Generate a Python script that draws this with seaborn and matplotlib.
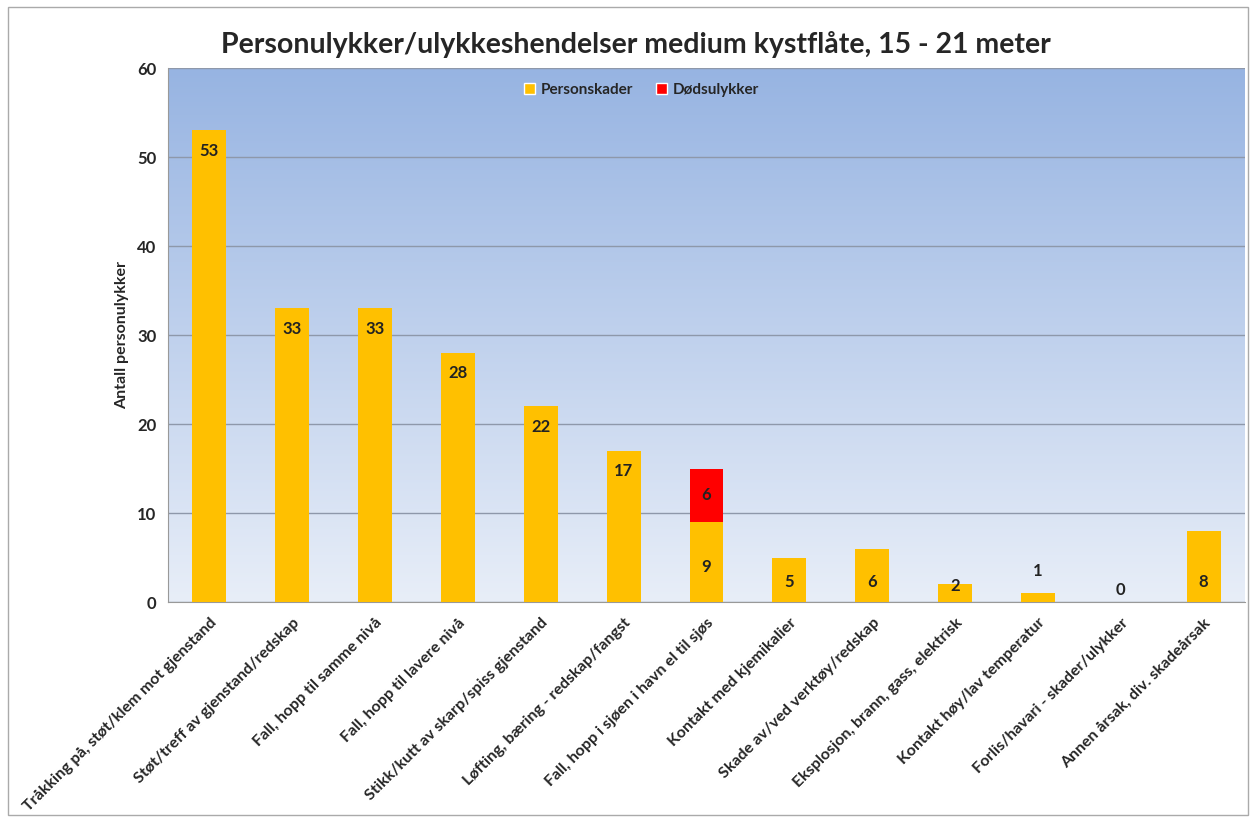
import numpy as np
import pandas as pd
import matplotlib
matplotlib.use("Agg")
import matplotlib.pyplot as plt
import seaborn as sns
from matplotlib.patches import Patch, Rectangle

categories = [
    "Tråkking på, støt/klem mot gjenstand",
    "Støt/treff av gjenstand/redskap",
    "Fall, hopp til samme nivå",
    "Fall, hopp til lavere nivå",
    "Stikk/kutt av skarp/spiss gjenstand",
    "Løfting, bæring - redskap/fangst",
    "Fall, hopp i sjøen i havn el til sjøs",
    "Kontakt med kjemikalier",
    "Skade av/ved verktøy/redskap",
    "Eksplosjon, brann, gass, elektrisk",
    "Kontakt høy/lav temperatur",
    "Forlis/havari - skader/ulykker",
    "Annen årsak, div. skadeårsak",
]
personskader = [53, 33, 33, 28, 22, 17, 9, 5, 6, 2, 1, 0, 8]
dodsulykker = [0, 0, 0, 0, 0, 0, 6, 0, 0, 0, 0, 0, 0]

gold = "#FFC000"
red = "#FF0000"

df = pd.DataFrame({"kategori": categories, "Personskader": personskader,
                   "Dødsulykker": dodsulykker})
df["total"] = df["Personskader"] + df["Dødsulykker"]

sns.set_style("white")
plt.rcParams["font.family"] = ["Lato", "DejaVu Sans"]
plt.rcParams["font.weight"] = "bold"

fig = plt.figure(figsize=(12.53, 8.21), dpi=100)
ax = fig.add_axes([168 / 1253, 1 - 602 / 821, (1245 - 168) / 1253, (602 - 68) / 821])

# gradient background
grad = np.linspace(0, 1, 256).reshape(-1, 1)
cmap = matplotlib.colors.LinearSegmentedColormap.from_list("bg", ["#E8EEF8", "#97B4E2"])
ax.imshow(grad, extent=[0, 1, 0, 1], transform=ax.transAxes, cmap=cmap,
          origin="lower", aspect="auto", zorder=0)

# stacked: total in red first, personskader in gold on top
sns.barplot(data=df, x="kategori", y="total", color=red, width=0.41,
            saturation=1, linewidth=0, ax=ax, zorder=3)
sns.barplot(data=df, x="kategori", y="Personskader", color=gold, width=0.41,
            saturation=1, linewidth=0, ax=ax, zorder=3)

ax.set_ylim(0, 60)
ax.set_xlim(-0.5, len(categories) - 0.5)
ax.set_yticks(range(0, 61, 10))
ax.yaxis.grid(True, color="#8E98AA", linewidth=1.0, zorder=1)
ax.set_axisbelow(True)


def label_y(v, stacked):
    # where Excel put the labels
    if stacked:
        return v / 2 - 0.6
    if v >= 10:
        return v - 2.3
    if v >= 3:
        return 2.2
    if v == 0:
        return 1.3
    if v == 1:
        return 3.5
    return 1.8


for i, (p, d) in enumerate(zip(personskader, dodsulykker)):
    ax.text(i, label_y(p, d > 0), str(p), ha="center", va="center",
            fontsize=12, fontweight="bold", color="#222222", zorder=5)
    if d > 0:
        ax.text(i, p + d / 2, str(d), ha="center", va="center", fontsize=12,
                fontweight="bold", color="#222222", zorder=5)

ax.set_xlabel("")
ax.set_ylabel("Antall personulykker", fontsize=11.5, fontweight="bold", labelpad=6)
ax.set_xticks(range(len(categories)))
ax.set_xticklabels(categories, rotation=45, ha="right", rotation_mode="anchor",
                   fontsize=11.5, fontweight="bold")
ax.tick_params(axis="x", which="major", length=0, pad=10)
ax.set_xticks(np.arange(-0.5, len(categories), 1), minor=True)
ax.tick_params(axis="x", which="minor", length=6, color="#999999", direction="out")
ax.tick_params(axis="y", length=5, color="#999999", labelsize=12)
for lab in ax.get_yticklabels():
    lab.set_fontweight("bold")

for side in ["top", "right"]:
    ax.spines[side].set_visible(False)
for side in ["left", "bottom"]:
    ax.spines[side].set_color("#999999")

handles = [Patch(facecolor=gold, label="Personskader"),
           Patch(facecolor=red, label="Dødsulykker")]
ax.legend(handles=handles, loc="upper center", bbox_to_anchor=(0.44, 0.998),
          ncol=2, frameon=False, fontsize=11, handlelength=0.7, handleheight=0.7,
          columnspacing=1.5, handletextpad=0.4)

fig.text(636 / 1253, 1 - 44 / 821, "Personulykker/ulykkeshendelser medium kystflåte, 15 - 21 meter",
         ha="center", va="center", fontsize=20.5, fontweight="bold")

fig.patches.append(Rectangle((8 / 1253, 6 / 821), 1240 / 1253, 808 / 821,
                             transform=fig.transFigure, fill=False,
                             edgecolor="#AAAAAA", linewidth=1))

fig.savefig("out.png", dpi=100)
